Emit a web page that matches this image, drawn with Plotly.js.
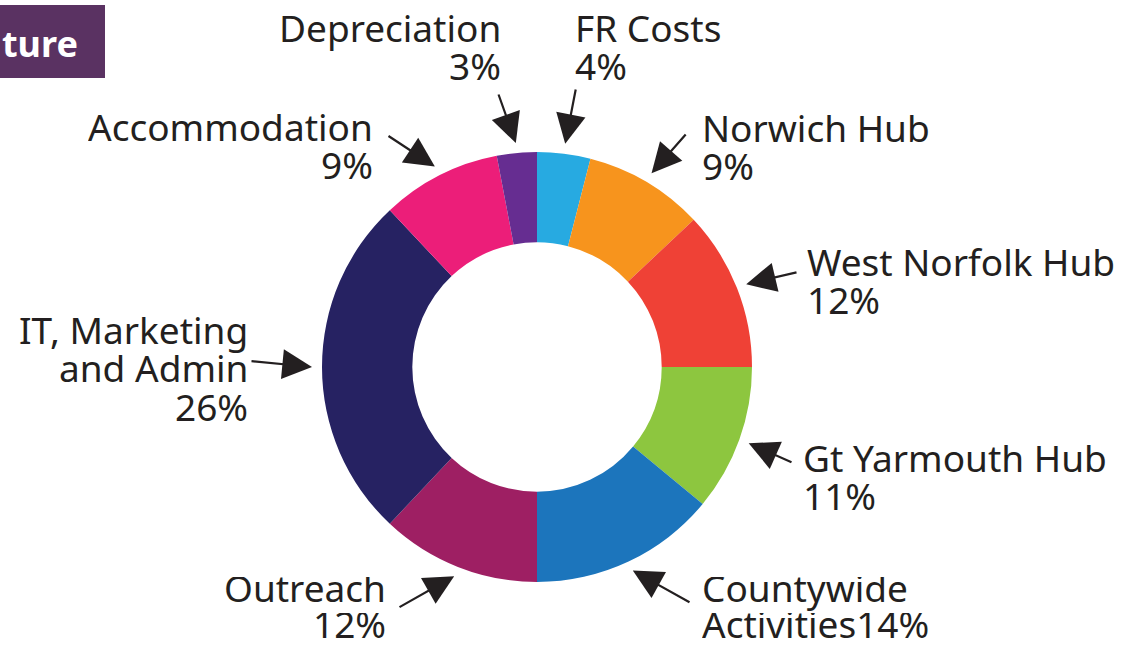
<!DOCTYPE html>
<html><head><meta charset="utf-8">
<script src="https://cdn.plot.ly/plotly-3.0.1.min.js"></script>
<style>html,body{margin:0;padding:0;background:#fff;overflow:hidden}#chart{width:1123px;height:650px}</style>
</head><body><div id="chart"></div>
<script>
// ---- data ----
const categories = ['FR Costs','Norwich Hub','West Norfolk Hub','Gt Yarmouth Hub','Countywide Activities','Outreach','IT, Marketing and Admin','Accommodation','Depreciation'];
const shares = [4, 9, 12, 11, 14, 12, 26, 9, 3];
const nameLines = [['FR Costs'],['Norwich Hub'],['West Norfolk Hub'],['Gt Yarmouth Hub'],['Countywide','Activities'],['Outreach'],['IT, Marketing','and Admin'],['Accommodation'],['Depreciation']];
const badgeText = 'ture';

// ---- styles / layout ----
const sliceColors = ['#27aae1','#f7941d','#ef4136','#8dc63f','#1c75bc','#9e1f63','#262262','#ec1e79','#662d91'];
const W = 1123, H = 650;
const cx = 537, cy = 367, R = 215, tipR = 225;
const FS = 37, LH = 38.5, textColor = '#231f20', FONT = 'Noto Sans, Open Sans, sans-serif';
// x anchor (px), first baseline (px), xanchor, arrow tail (px), percent on last name line
const labelPos = [
  {x:574, y:43,  xa:'left',  tail:[576,88]},
  {x:701, y:143, xa:'left',  tail:[687,133]},
  {x:806, y:277, xa:'left',  tail:[798,272]},
  {x:802, y:473, xa:'left',  tail:[793,463]},
  {x:701, y:603, xa:'left',  tail:[691,603], inline:true, lh:36},
  {x:387, y:603, xa:'right', tail:[398,608], lh:36},
  {x:249, y:345, xa:'right', tail:[250,361]},
  {x:374, y:142, xa:'right', tail:[387,135]},
  {x:502, y:43,  xa:'right', tail:[498,93]}
];

const px = v => v / W;
const py = v => 1 - v / H;

const total = shares.reduce((a,b)=>a+b,0);
const annotations = [];
let cum = 0;
shares.forEach((s, i) => {
  const mid = (cum + s/2) / total * 2 * Math.PI;
  cum += s;
  const hx = cx + tipR * Math.sin(mid), hy = cy - tipR * Math.cos(mid);
  const p = labelPos[i];
  annotations.push({
    x: px(hx), y: py(hy), xref:'paper', yref:'paper',
    text:'', showarrow:true, arrowhead:2, arrowsize:2.7, arrowwidth:2.2, arrowcolor:textColor,
    ax: p.tail[0]-hx, ay: p.tail[1]-hy, standoff:0, startstandoff:0
  });
  const lines = nameLines[i].slice();
  const pct = s + '%';
  if (p.inline) lines[lines.length-1] += pct; else lines.push(pct);
  const lh = p.lh || LH;
  lines.forEach((t, k) => {
    const base = p.y + k*lh;
    annotations.push({
      x: px(p.x), y: py(base + 0.293*FS), xref:'paper', yref:'paper',
      xanchor: p.xa, yanchor:'bottom', valign:'bottom', height: Math.min(lh, 39) ,
      text: t, showarrow:false, align: p.xa,
      font:{family:FONT, size:FS, color:textColor}, borderpad:0
    });
  });
});

annotations.push({
  x: px(79), y: py(57 - 0.388*36), xref:'paper', yref:'paper', xanchor:'right', yanchor:'middle',
  text: '<b>'+badgeText+'</b>', showarrow:false, borderpad:0,
  font:{family:FONT, size:36, color:'#ffffff'}
});

const trace = {
  type:'pie', values: shares, labels: categories, sort:false, direction:'clockwise', rotation:0,
  hole:0.58, textinfo:'none', hoverinfo:'label+percent',
  marker:{colors: sliceColors, line:{width:0}},
  domain:{x:[px(cx-R), px(cx+R)], y:[py(cy+R), py(cy-R)]}
};

const layout = {
  width:W, height:H, margin:{l:0,r:0,t:0,b:0}, showlegend:false,
  paper_bgcolor:'#ffffff', plot_bgcolor:'#ffffff',
  shapes:[{type:'rect', xref:'paper', yref:'paper', x0:0, x1:px(105), y0:py(78), y1:py(5),
           fillcolor:'#5a3262', line:{width:0}, layer:'below'}],
  annotations
};

Plotly.newPlot('chart', [trace], layout, {staticPlot:true, displayModeBar:false});
</script>
</body></html>
